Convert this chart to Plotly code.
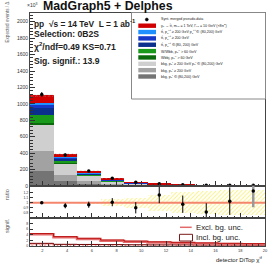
import numpy as np
import plotly.graph_objects as go

W, H = 274, 267

# ---------------- data ----------------
bin_edges = [1.0, 2.9, 4.8, 6.7, 8.6, 10.5, 12.4, 14.3, 16.2, 18.1, 20.0]

bkg_8020 = [182, 60, 25, 10, 5, 3, 2, 1.5, 1.0, 0.8]          # dark gray
bkg_200 = [244, 75, 36, 15, 8, 4, 3, 2.0, 1.5, 1.2]            # medium gray
bkg_mix = [312, 140, 61, 30, 15, 7, 4.5, 3.5, 2.5, 2.0]        # light gray
wbbj = [30, 10, 5, 3, 2, 1, 0.5, 0.5, 0.3, 0.3]                # dark green
wwbb = [92, 25, 12, 6, 3, 2, 1, 1.0, 0.7, 0.5]                 # green
tt_8020 = [89, 22, 12, 6, 3, 1.5, 1, 0.7, 0.5, 0.4]            # dark blue
tt_200 = [33, 12, 6, 4, 2, 1, 0.7, 0.5, 0.4, 0.3]              # blue
tt_mix = [33, 12, 6, 4, 2, 1, 0.7, 0.5, 0.4, 0.3]              # light blue
signal = [90, 34, 25, 14, 8, 4, 2.6, 2.0, 1.6, 1.2]            # red
stat_unc = [18, 10, 7, 5, 3, 2, 2, 1.5, 1.5, 1.0]

data_vals = [1115, 376, 182, 93, 45, 27, 15, 10, 9, 8]
data_err = [28, 20, 14, 10, 7, 5, 4, 3, 3, 3]

ratio_vals = [1.00, 0.94, 0.96, 1.01, 0.90, 1.15, 0.97, 0.82, 1.03, 1.23]
ratio_err = [0.02, 0.05, 0.06, 0.08, 0.11, 0.16, 0.17, 0.17, 0.27, 0.32]
bkg_unc = [0.004, 0.008, 0.02, 0.065, 0.10, 0.16, 0.21, 0.23, 0.25, 0.25]

sig_excl = [4.2, 3.1, 2.5, 1.9, 1.5, 1.25, 1.05, 0.85, 0.7, 0.6]
sig_incl = [0.95, 0.6, 0.55, 0.5, 0.45, 0.4, 0.4, 0.35, 0.35, 0.3]

legend_labels = [
    "y<sub>1</sub> → t̄t, m<sub>y1</sub> = 1 TeV, Γ<sub>y1</sub> = 10 GeV (×8π<sup>2</sup>)",
    "tt̄, p<sub>T</sub><sup>t,t̄</sup> ≥ 200 GeV p<sub>T</sub><sup>t,t̄</sup> ∈ (80,200) GeV",
    "tt̄, p<sub>T</sub><sup>t,t̄</sup> ≥ 200 GeV",
    "tt̄, p<sub>T</sub><sup>t,t̄</sup> ∈ (80, 200) GeV",
    "W/Wbb, p<sub>T</sub><sup>V</sup> > 60 GeV",
    "Wbbj, p<sub>T</sub><sup>V</sup> > 60 GeV",
    "bkg, p<sub>T</sub><sup>j</sup> ≥ 200 GeV p<sub>T</sub><sup>j</sup> ∈ (80,200) GeV",
    "bkg, p<sub>T</sub><sup>j</sup> ≥ 200 GeV",
    "bkg, p<sub>T</sub><sup>j</sup> ∈ (80,200) GeV",
]
legend_colors = ["#d00000", "#1e90ff", "#1638c8", "#0a2f8c", "#1a9a1a",
                 "#0b6a0b", "#cfcfcf", "#a2a2a2", "#747474"]

# ---------------- geometry ----------------
edges = np.array(bin_edges)
centers = 0.5 * (edges[:-1] + edges[1:])
widths = np.diff(edges)


def py(px):
    return 1 - px / H


def pxx(px):
    return px / W


xdom = [pxx(30), pxx(265)]
fig = go.Figure()

# stacked backgrounds (bottom -> top)
stack = [
    (bkg_8020, "#747474"), (bkg_200, "#a2a2a2"), (bkg_mix, "#cfcfcf"),
    (wbbj, "#0b6a0b"), (wwbb, "#1a9a1a"), (tt_8020, "#0a2f8c"),
    (tt_200, "#1638c8"), (tt_mix, "#1e90ff"), (signal, "#d00000"),
]
base = np.zeros(len(centers))
for vals, col in stack:
    v = np.array(vals, dtype=float)
    fig.add_trace(go.Bar(x=centers, y=v, base=base, width=widths,
                         marker=dict(color=col, line=dict(width=0)),
                         xaxis="x", yaxis="y", showlegend=False))
    base = base + v
total = base
su = np.array(stat_unc)
fig.add_trace(go.Bar(x=centers, y=2 * su, base=total - su, width=widths,
                     marker=dict(color="rgba(0,0,0,0)", line=dict(width=0),
                                 pattern=dict(shape="x", fgcolor="#aaaaaa",
                                              bgcolor="rgba(0,0,0,0)", size=3, solidity=0.35)),
                     xaxis="x", yaxis="y", showlegend=False))
fig.add_trace(go.Scatter(x=centers, y=data_vals, mode="markers",
                         marker=dict(color="black", size=3.5),
                         error_y=dict(type="data", array=data_err, color="black", thickness=1, width=0),
                         xaxis="x", yaxis="y", showlegend=False))

# ratio panel
bu = np.array(bkg_unc)
fig.add_trace(go.Bar(x=centers, y=2 * bu, base=1 - bu, width=widths,
                     marker=dict(color="rgba(0,0,0,0)", line=dict(width=0),
                                 pattern=dict(shape="/", fgcolor="#f2e200",
                                              bgcolor="rgba(0,0,0,0)", size=3, solidity=0.3)),
                     xaxis="x2", yaxis="y2", showlegend=False))
fig.add_trace(go.Scatter(x=[bin_edges[0], bin_edges[-1]], y=[1, 1], mode="lines",
                         line=dict(color="#f4866e", width=2),
                         xaxis="x2", yaxis="y2", showlegend=False))
fig.add_trace(go.Scatter(x=centers[-1:], y=ratio_vals[-1:], mode="markers",
                         marker=dict(color="black", size=3.5),
                         error_y=dict(type="data", array=ratio_err[-1:], color="#999999", thickness=2.5, width=0),
                         xaxis="x2", yaxis="y2", showlegend=False))
fig.add_trace(go.Scatter(x=centers[:-1], y=ratio_vals[:-1], mode="markers",
                         marker=dict(color="black", size=3.5),
                         error_y=dict(type="data", array=ratio_err[:-1], color="black", thickness=1, width=0),
                         xaxis="x2", yaxis="y2", showlegend=False))

# significance panel
si = np.array(sig_incl)
fig.add_trace(go.Bar(x=centers, y=si, width=widths,
                     marker=dict(color="rgba(0,0,0,0)", line=dict(width=0),
                                 pattern=dict(shape="x", fgcolor="#e00000",
                                              bgcolor="rgba(0,0,0,0)", size=3, solidity=0.5)),
                     xaxis="x3", yaxis="y3", showlegend=False))
fig.add_trace(go.Scatter(x=bin_edges, y=list(sig_incl) + [sig_incl[-1]], mode="lines",
                         line=dict(color="#7a0000", width=1, shape="hv"),
                         xaxis="x3", yaxis="y3", showlegend=False))
fig.add_trace(go.Scatter(x=bin_edges, y=list(sig_excl) + [sig_excl[-1]], mode="lines",
                         line=dict(color="#e36a6a", width=2.5, shape="hv"),
                         xaxis="x3", yaxis="y3", showlegend=False))
fig.add_trace(go.Scatter(x=bin_edges, y=list(np.array(sig_excl) + 0.25) + [sig_excl[-1] + 0.25], mode="lines",
                         line=dict(color="#b00000", width=0.8, shape="hv"),
                         xaxis="x3", yaxis="y3", showlegend=False))

axis_common = dict(showline=True, linecolor="#444444", linewidth=1, mirror=True, automargin=False,
                   ticks="inside", tickcolor="#333333", showgrid=False, zeroline=False)
xcommon = dict(axis_common, range=[bin_edges[0], bin_edges[-1]], tick0=2, dtick=2, ticklen=5,
               minor=dict(ticks="inside", ticklen=2.5, dtick=0.5, tickcolor="#333333"),
               domain=xdom)

fig.update_layout(
    width=W, height=H, margin=dict(l=0, r=0, t=0, b=0, autoexpand=False),
    paper_bgcolor="white", plot_bgcolor="white", barmode="overlay", bargap=0,
    font=dict(family="Liberation Sans, Arial, sans-serif", color="#222222"),
    xaxis=dict(xcommon, anchor="y", showticklabels=False),
    yaxis=dict(axis_common, domain=[py(186), py(13)], range=[0, 2106], anchor="x",
               tickvals=list(range(0, 2001, 200)), ticklen=5,
               minor=dict(ticks="inside", ticklen=2.5, dtick=40, tickcolor="#333333"),
               tickfont=dict(size=5, color="#333333")),
    xaxis2=dict(xcommon, anchor="y2", matches="x", showticklabels=False),
    yaxis2=dict(axis_common, domain=[py(218), py(186)], range=[0.7, 1.327], anchor="x2",
                tickvals=[0.8, 0.9, 1.0, 1.1, 1.2], ticklen=3,
                tickfont=dict(size=3.5, color="#333333")),
    xaxis3=dict(xcommon, anchor="y3", matches="x", showticklabels=True,
                tickfont=dict(size=4, color="#333333")),
    yaxis3=dict(axis_common, domain=[py(246), py(218)], range=[0, 10], anchor="x3",
                tickvals=[0, 2, 4, 6, 8], ticklen=3,
                tickfont=dict(size=3.5, color="#333333")),
)

ann = []
shapes = []


def add_text(x, y, text, size, bold=False, color="#222222", xanchor="left", angle=0, yanchor="middle"):
    ann.append(dict(x=pxx(x), y=py(y), xref="paper", yref="paper", text=("<b>%s</b>" % text) if bold else text,
                    showarrow=False, xanchor=xanchor, yanchor=yanchor, textangle=angle,
                    font=dict(size=size, color=color), borderpad=0))


add_text(42, 6.5, "MadGraph5 + Delphes", 12.3, bold=True, color="#111111")
add_text(26, 4.5, "×10<sup>3</sup>", 5, color="#333333")
add_text(33, 23.3, "pp  √s = 14 TeV  L = 1 ab<sup>-1</sup>", 8.4, bold=True)
add_text(33, 34.3, "Selection: 0B2S", 8.6, bold=True)
add_text(33, 46.7, "χ<sup>2</sup>/ndf=0.49 KS=0.71", 8.6, bold=True)
add_text(33, 60.5, "Sig. signif.: 13.9", 8.6, bold=True)
add_text(7, 1, "Expected events / Δ", 4.6, color="#555555", xanchor="center", angle=-90, yanchor="top")
add_text(7, 195, "ratio", 5.5, color="#555555", xanchor="center", angle=-90)
add_text(7, 226, "signif.", 5.5, color="#555555", xanchor="center", angle=-90)
add_text(264, 258.5, "detector DiTop χ<sup>tf</sup>", 6, color="#222222", xanchor="right")

# legend box (top right)
shapes.append(dict(type="rect", xref="paper", yref="paper", x0=pxx(131.5), x1=pxx(265.5),
                   y0=py(99), y1=py(12.5), line=dict(color="#888888", width=1), fillcolor="white", layer="above"))
shapes.append(dict(type="circle", xref="paper", yref="paper", x0=pxx(145.3), x1=pxx(148.3),
                   y0=py(21), y1=py(18), line=dict(color="black", width=0.5), fillcolor="black", layer="above"))
add_text(160, 19.5, "Synt. merged pseudo-data", 3.6)
for i, (lab, col) in enumerate(zip(legend_labels, legend_colors)):
    yc = 25.7 + 6.35 * i
    shapes.append(dict(type="rect", xref="paper", yref="paper", x0=pxx(138.3), x1=pxx(156),
                       y0=py(yc + 2.2), y1=py(yc - 2.2), line=dict(width=0), fillcolor=col, layer="above"))
    add_text(160, yc, lab, 3.6)

# significance legend
shapes.append(dict(type="line", xref="paper", yref="paper", x0=pxx(180), x1=pxx(191.7),
                   y0=py(227.3), y1=py(227.3), line=dict(color="#e36a6a", width=1.5), layer="above"))
add_text(195, 227.3, "Excl. bg. unc.", 7.8)
shapes.append(dict(type="rect", xref="paper", yref="paper", x0=pxx(179.5), x1=pxx(192.5),
                   y0=py(241), y1=py(234.3), line=dict(color="#7a1a1a", width=1), fillcolor="white", layer="above"))
add_text(195, 237.6, "Incl. bg. unc.", 7.8)

fig.update_layout(annotations=ann, shapes=shapes)
fig.write_html("out.html", config={"displayModeBar": False},
               post_script="document.body.style.margin='0';document.body.style.overflow='hidden';")
